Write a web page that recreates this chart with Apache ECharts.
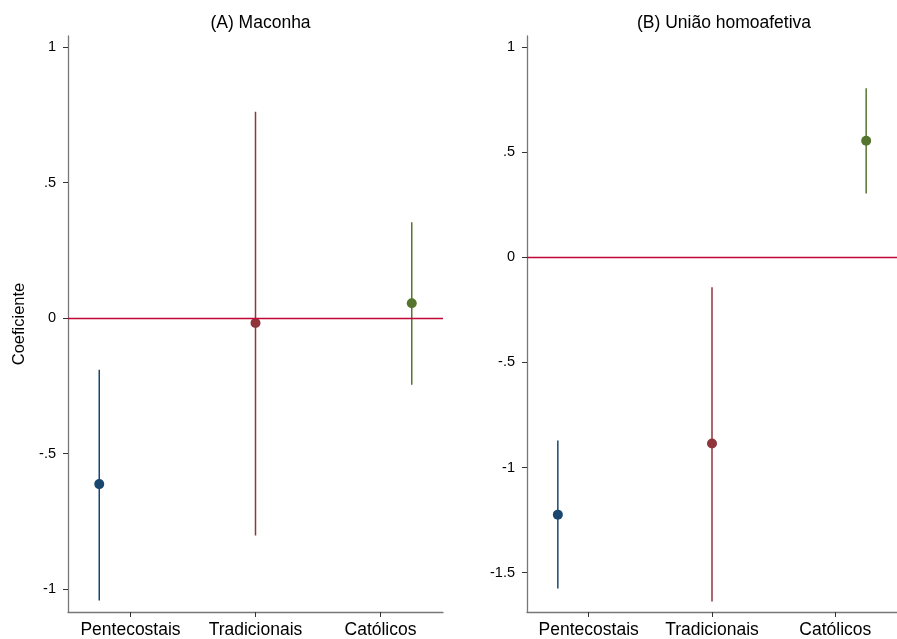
<!DOCTYPE html>
<html>
<head>
<meta charset="utf-8">
<script src="https://cdn.jsdelivr.net/npm/echarts@6/dist/echarts.min.js"></script>
<style>
  html, body { margin: 0; padding: 0; background: #fff; }
  #chart { width: 897px; height: 639px; }
</style>
</head>
<body>
<div id="chart"></div>
<script>
// Groups and their positions on the continuous x axis (offset around the category ticks)
const categories = ['Pentecostais', 'Tradicionais', 'Católicos'];
const categoryTicks = [1, 2, 3];
const groupPositions = [0.75, 2, 3.25];
const groupColors = ['#1a476f', '#90353b', '#55752f'];

// (A) Maconha: coefficient and confidence interval
const maconhaCoef = [-0.612, -0.018, 0.055];
const maconhaLow = [-1.041, -0.802, -0.246];
const maconhaHigh = [-0.190, 0.761, 0.354];

// (B) União homoafetiva: coefficient and confidence interval
const uniaoCoef = [-1.224, -0.886, 0.554];
const uniaoLow = [-1.575, -1.637, 0.303];
const uniaoHigh = [-0.871, -0.143, 0.803];

// Y tick values per panel
const maconhaTicks = [-1, -0.5, 0, 0.5, 1];
const uniaoTicks = [-1.5, -1, -0.5, 0, 0.5, 1];

const FONT = 'Liberation Sans, Arial, sans-serif';

function tickText(v) {
  if (v === 0) return '0';
  return String(v).replace('0.', '.');
}

function buildData(coef, low, high) {
  return coef.map((c, i) => [groupPositions[i], c, low[i], high[i]]);
}

function renderCoef(params, api) {
  const x = api.value(0);
  const pt = api.coord([x, api.value(1)]);
  const lo = api.coord([x, api.value(2)]);
  const hi = api.coord([x, api.value(3)]);
  const color = groupColors[params.dataIndex];
  return {
    type: 'group',
    children: [
      {
        type: 'line',
        shape: { x1: lo[0], y1: lo[1], x2: hi[0], y2: hi[1] },
        style: { stroke: color, lineWidth: 1.5 }
      },
      {
        type: 'circle',
        shape: { cx: pt[0], cy: pt[1], r: 5 },
        style: { fill: color }
      }
    ]
  };
}

function xAxisFor(gridIndex) {
  return {
    type: 'value',
    gridIndex: gridIndex,
    min: 0.5,
    max: 3.5,
    splitLine: { show: false },
    axisLine: { show: true, onZero: false, lineStyle: { color: '#777', width: 1.3 } },
    axisTick: { show: true, customValues: categoryTicks, length: 5, lineStyle: { color: '#333', width: 1 } },
    axisLabel: {
      customValues: categoryTicks,
      formatter: v => categories[Math.round(v) - 1] || '',
      color: '#000', fontSize: 17.5, fontFamily: FONT, margin: 9
    }
  };
}

function yAxisFor(gridIndex, min, max, ticks, name) {
  return {
    type: 'value',
    gridIndex: gridIndex,
    min: min,
    max: max,
    name: name,
    nameLocation: 'middle',
    nameGap: 40,
    nameTextStyle: { color: '#000', fontSize: 16.5, fontFamily: FONT },
    splitLine: { show: false },
    axisLine: { show: true, onZero: false, lineStyle: { color: '#777', width: 1.3 } },
    axisTick: { show: true, customValues: ticks, length: 5, lineStyle: { color: '#333', width: 1 } },
    axisLabel: {
      customValues: ticks,
      formatter: tickText,
      color: '#000', fontSize: 14.5, fontFamily: FONT, margin: 12
    }
  };
}

function zeroLine() {
  return {
    silent: true,
    symbol: ['none', 'none'],
    label: { show: false },
    lineStyle: { color: '#c10534', width: 1.4, type: 'solid' },
    data: [{ yAxis: 0 }]
  };
}

const chart = echarts.init(document.getElementById('chart'), null, { renderer: 'canvas' });

chart.setOption({
  backgroundColor: '#fff',
  animation: false,
  title: [
    { text: '(A) Maconha', left: 255.5, top: 9, textAlign: 'center',
      textStyle: { fontSize: 17.5, fontWeight: 'normal', color: '#000', fontFamily: FONT } },
    { text: '(B) União homoafetiva', left: 719, top: 9, textAlign: 'center',
      textStyle: { fontSize: 17.5, fontWeight: 'normal', color: '#000', fontFamily: FONT } }
  ],
  grid: [
    { left: 68, top: 36, width: 375, height: 576 },
    { left: 527, top: 36, width: 384, height: 576 }
  ],
  xAxis: [xAxisFor(0), xAxisFor(1)],
  yAxis: [
    yAxisFor(0, -1.0837, 1.0406, maconhaTicks, 'Coeficiente'),
    yAxisFor(1, -1.687, 1.052, uniaoTicks, '')
  ],
  series: [
    {
      type: 'custom',
      xAxisIndex: 0, yAxisIndex: 0,
      renderItem: renderCoef,
      data: buildData(maconhaCoef, maconhaLow, maconhaHigh),
      markLine: zeroLine(),
      z: 3
    },
    {
      type: 'custom',
      xAxisIndex: 1, yAxisIndex: 1,
      renderItem: renderCoef,
      data: buildData(uniaoCoef, uniaoLow, uniaoHigh),
      markLine: zeroLine(),
      z: 3
    }
  ]
});
</script>
</body>
</html>
